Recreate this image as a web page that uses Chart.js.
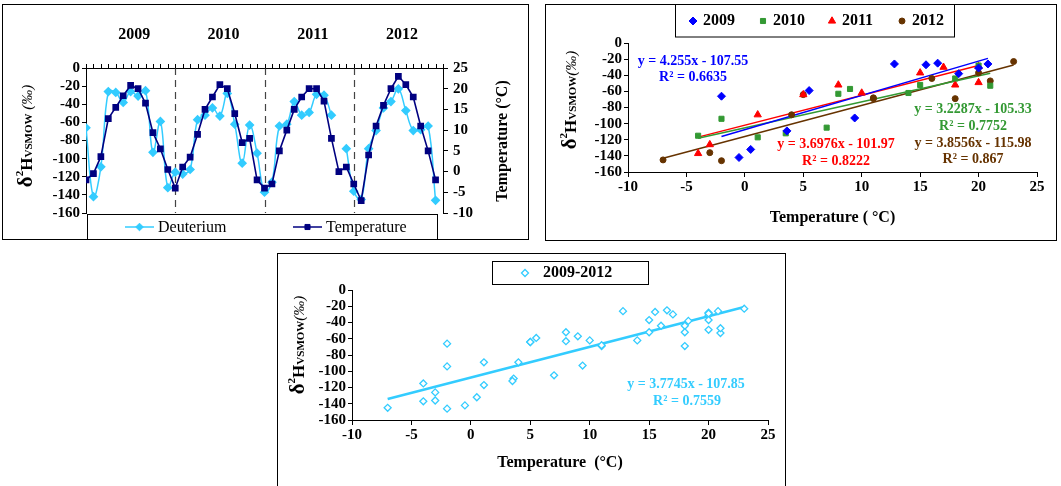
<!DOCTYPE html>
<html><head><meta charset="utf-8">
<script src="https://cdn.jsdelivr.net/npm/chart.js@4.4.1/dist/chart.umd.min.js"></script>
<style>
html,body{margin:0;padding:0;background:#fff;width:1061px;height:486px;overflow:hidden;}
.box{position:absolute;border:1px solid #000;box-sizing:border-box;background:#fff}
.box canvas{position:absolute;left:0;top:0}
</style></head><body>
<div class="box" style="left:2px;top:4px;width:527px;height:236px"><canvas id="c1" width="525" height="234"></canvas></div>
<div class="box" style="left:545px;top:4px;width:512px;height:237px"><canvas id="c2" width="510" height="235"></canvas></div>
<div class="box" style="left:277px;top:253px;width:509px;height:240px"><canvas id="c3" width="507" height="232"></canvas></div>
<script>
// ---------------- DATA ----------------
const years = ['2009', '2010', '2011', '2012'];
const seriesNames = ['Deuterium', 'Temperature'];
const temp2009 = [-2, -0.5, 3.6, 12.8, 15.5, 18.3, 20.8, 20, 16.5, 9.4, 5.5, 0.5];
const deut2009 = [-66, -142, -109, -26, -27, -38, -26, -31, -25, -93, -59, -132];
const temp2010 = [-4, 1.1, 3.5, 9, 15, 18, 21, 20, 14, 7, 8, -2];
const deut2010 = [-115, -117, -112, -57, -52, -44, -53, -28, -62, -105, -63, -94];
const temp2011 = [-4, -3, 5, 10, 15, 18, 20, 20, 17, 8, 0, 1.1];
const deut2011 = [-137, -126, -64, -62, -37, -52, -49, -29, -30, -52, null, -89];
const temp2012 = [-3, -7, 4, 11, 16, 20, 23, 21, 18, 11, 5, -2];
const deut2012 = [-136, -145, -89, -69, -44, -37, -23, -47, -69, -68, -64, -146];
const trendSlopes = [4.255, 3.2287, 3.6976, 3.8556];
const trendIntercepts = [-107.55, -105.33, -101.97, -115.98];
const trendR2 = ['0.6635', '0.7752', '0.8222', '0.867'];
const allLabel = '2009-2012';
const allSlope = 3.7745, allIntercept = -107.85, allR2 = '0.7559';
const deutTicks = {min: -160, max: 0, step: 20};
const tempTicks = {min: -10, max: 25, step: 5};
const xTempTicks = {min: -10, max: 25, step: 5};
const tempAxisTitle = 'Temperature (°C)';
const xTitle2 = 'Temperature ( °C)';
const xTitle3 = 'Temperature  (°C)';

// ---------------- derived ----------------
const tempsByYear = [temp2009, temp2010, temp2011, temp2012];
const deutsByYear = [deut2009, deut2010, deut2011, deut2012];
const temperature = [].concat(...tempsByYear);
const deuterium = [].concat(...deutsByYear);
const nMonths = temperature.length;

const SERIF = '"Liberation Serif", "Times New Roman", serif';
Chart.defaults.font.family = SERIF;
Chart.defaults.color = '#000';
Chart.defaults.animation = false;

const CYAN = '#33CCFF', NAVY = '#000080';
const YEAR_COLORS = ['#0000FF', '#339933', '#FF0000', '#663300'];
const YEAR_STYLES = ['rectRot', 'rect', 'triangle', 'circle'];
const YEAR_RADII = [4, 3.6, 4.2, 3];

function richTitle(ctx, pieces, cx, cy) {
  ctx.save();
  ctx.translate(cx, cy);
  ctx.rotate(-Math.PI / 2);
  let total = 0;
  pieces.forEach(p => { ctx.font = p.font; p.w = ctx.measureText(p.t).width; total += p.w; });
  let x = -total / 2;
  ctx.fillStyle = '#000'; ctx.textBaseline = 'alphabetic'; ctx.textAlign = 'left';
  pieces.forEach(p => { ctx.font = p.font; ctx.fillText(p.t, x, 6 + (p.dy || 0)); x += p.w; });
  ctx.restore();
}
function yTitlePieces(space) {
  return [
    {t: 'δ', font: 'bold 21px ' + SERIF},
    {t: '2', font: 'bold 11px ' + SERIF, dy: -9},
    {t: 'H', font: 'bold 17px ' + SERIF},
    {t: 'VSMOW', font: 'bold 11px ' + SERIF},
    {t: (space ? ' ' : '') + '(‰)', font: 'italic 15px ' + SERIF}
  ];
}
function marker(ctx, style, x, y, r, stroke, fill, bw) {
  ctx.save();
  ctx.strokeStyle = stroke; ctx.fillStyle = fill; ctx.lineWidth = bw || 1;
  Chart.helpers.drawPoint(ctx, {pointStyle: style, radius: r, rotation: 0, borderWidth: bw || 1}, x, y);
  ctx.restore();
}
function txt(ctx, s, x, y, font, color, align) {
  ctx.save();
  ctx.font = font; ctx.fillStyle = color; ctx.textAlign = align || 'center'; ctx.textBaseline = 'middle';
  ctx.fillText(s, x, y);
  ctx.restore();
}
const boldTick = (size) => ({family: SERIF, weight: 'bold', size: size});

// ---------------- Chart 1 : time series ----------------
const deco1 = {
  id: 'deco1',
  beforeDatasetsDraw(chart) {
    const {ctx, chartArea: a, scales: {x}} = chart;
    ctx.save();
    ctx.strokeStyle = '#444'; ctx.lineWidth = 1.2; ctx.setLineDash([7, 5]);
    for (let k = 1; k < years.length; k++) {
      const px = Math.round(x.getPixelForValue(k * 12)) + 0.5;
      ctx.beginPath(); ctx.moveTo(px, a.top); ctx.lineTo(px, a.bottom); ctx.stroke();
    }
    ctx.restore();
  },
  afterDraw(chart) {
    const {ctx, chartArea: a, scales: {x}} = chart;
    // month tick marks along the top axis
    ctx.save();
    ctx.strokeStyle = '#000'; ctx.lineWidth = 1; ctx.setLineDash([]);
    ctx.beginPath();
    for (let i = 0; i <= nMonths; i++) {
      const px = Math.round(x.getPixelForValue(i)) + 0.5;
      ctx.moveTo(px, a.top + 0.5); ctx.lineTo(px, a.top - 4);
    }
    ctx.stroke();
    ctx.restore();
    years.forEach((yr, k) => txt(ctx, yr, x.getPixelForValue(k * 12 + 6.5), 30, 'bold 16px ' + SERIF, '#000'));
    richTitle(ctx, yTitlePieces(true), 23, 131);
    ctx.save();
    ctx.translate(500, 136); ctx.rotate(-Math.PI / 2);
    ctx.font = 'bold 16px ' + SERIF; ctx.fillStyle = '#000'; ctx.textAlign = 'center'; ctx.textBaseline = 'middle';
    ctx.fillText(tempAxisTitle, 0, 0);
    ctx.restore();
    // legend box
    ctx.save();
    ctx.strokeStyle = '#000'; ctx.lineWidth = 1;
    ctx.strokeRect(a.left + 1.5, a.bottom + 1.5, 350, 30);
    const ly = a.bottom + 14;
    const items = [{x0: 122, c: CYAN, s: 'rectRot', r: 3.8}, {x0: 290, c: NAVY, s: 'rect', r: 3.6}];
    items.forEach((it, i) => {
      ctx.strokeStyle = it.c; ctx.lineWidth = 1.5;
      ctx.beginPath(); ctx.moveTo(it.x0, ly); ctx.lineTo(it.x0 + 29, ly); ctx.stroke();
      marker(ctx, it.s, it.x0 + 14.5, ly, it.r, it.c, it.c, 1);
      txt(ctx, seriesNames[i], it.x0 + 33, ly + 1, '16px ' + SERIF, '#000', 'left');
    });
    ctx.restore();
  }
};

new Chart(document.getElementById('c1'), {
  type: 'line',
  data: {
    datasets: [
      {label: seriesNames[1], data: temperature.map((v, i) => ({x: i, y: v})), yAxisID: 'yT',
       borderColor: NAVY, backgroundColor: NAVY, borderWidth: 1.6, pointStyle: 'rect', pointRadius: 3.6,
       tension: 0, order: 0},
      {label: seriesNames[0], data: deuterium.map((v, i) => ({x: i, y: v})), yAxisID: 'yD',
       borderColor: CYAN, backgroundColor: CYAN, borderWidth: 1.5, pointStyle: 'rectRot', pointRadius: 3.8,
       tension: 0.4, spanGaps: false, order: 1}
    ]
  },
  options: {
    responsive: false, animation: false,
    layout: {padding: {left: 0, right: 0, top: 0, bottom: 26}},
    plugins: {legend: {display: false}, tooltip: {enabled: false}},
    scales: {
      x: {type: 'linear', position: 'top', min: 0, max: nMonths,
          ticks: {display: false, stepSize: 1, maxTicksLimit: 100, autoSkip: false},
          grid: {display: false},
          border: {display: true, color: '#000', width: 1},
          afterFit: s => { s.height = 63; }},
      yD: {type: 'linear', position: 'left', min: deutTicks.min, max: deutTicks.max,
           ticks: {stepSize: deutTicks.step, font: boldTick(15), padding: 2, autoSkip: false},
           grid: {drawOnChartArea: false, tickLength: 4, color: '#000'},
           border: {display: true, color: '#000', width: 1},
           afterFit: s => { s.width = 83; }},
      yT: {type: 'linear', position: 'right', min: tempTicks.min, max: tempTicks.max,
           ticks: {stepSize: tempTicks.step, font: boldTick(15), padding: 5, autoSkip: false},
           grid: {drawOnChartArea: false, tickLength: 5, color: '#000'},
           border: {display: true, color: '#000', width: 1},
           afterFit: s => { s.width = 85; }}
    }
  },
  plugins: [deco1]
});

// ---------------- Chart 2 : per-year scatter ----------------
function trendLine(temps, deuts, slope, intercept) {
  const xs = temps.filter((t, i) => deuts[i] !== null);
  const lo = Math.min(...xs), hi = Math.max(...xs);
  return [{x: lo, y: slope * lo + intercept}, {x: hi, y: slope * hi + intercept}];
}
function eqText(slope, intercept) {
  return 'y = ' + slope + 'x ' + (intercept < 0 ? '- ' : '+ ') + Math.abs(intercept);
}
const ds2 = [];
years.forEach((yr, k) => {
  ds2.push({label: yr + ' trend', type: 'line', showLine: true, data: trendLine(tempsByYear[k], deutsByYear[k], trendSlopes[k], trendIntercepts[k]),
    borderColor: YEAR_COLORS[k], borderWidth: 1.5, pointRadius: 0, order: 2});
});
years.forEach((yr, k) => {
  ds2.push({label: yr, data: tempsByYear[k].map((t, i) => ({x: t, y: deutsByYear[k][i]})).filter(p => p.y !== null),
    pointStyle: YEAR_STYLES[k], pointRadius: YEAR_RADII[k], borderColor: YEAR_COLORS[k], backgroundColor: YEAR_COLORS[k],
    pointBorderWidth: 1, order: 1});
});
const eqPos2 = [[147, 56, 72], [427, 104, 121], [290, 139, 156], [427, 138, 154]];
const deco2 = {
  id: 'deco2',
  afterDraw(chart) {
    const {ctx} = chart;
    richTitle(ctx, yTitlePieces(false), 24, 95);
    years.forEach((yr, k) => {
      const p = eqPos2[k];
      txt(ctx, eqText(trendSlopes[k], trendIntercepts[k]), p[0], p[1], 'bold 14px ' + SERIF, YEAR_COLORS[k]);
      txt(ctx, 'R² = ' + trendR2[k], p[0], p[2], 'bold 14px ' + SERIF, YEAR_COLORS[k]);
    });
    ctx.save();
    ctx.strokeStyle = '#000'; ctx.lineWidth = 1;
    ctx.strokeRect(129.5, -1, 279, 33);
    const lx = [147, 217, 286, 356];
    years.forEach((yr, k) => {
      marker(ctx, YEAR_STYLES[k], lx[k], 16, YEAR_RADII[k], YEAR_COLORS[k], YEAR_COLORS[k], 1);
      txt(ctx, yr, lx[k] + 10, 16, 'bold 16px ' + SERIF, '#000', 'left');
    });
    ctx.restore();
  }
};
new Chart(document.getElementById('c2'), {
  type: 'scatter',
  data: {datasets: ds2},
  options: {
    responsive: false, animation: false,
    layout: {padding: {left: 0, right: 19, top: 38, bottom: 0}},
    plugins: {legend: {display: false}, tooltip: {enabled: false}},
    scales: {
      x: {type: 'linear', position: 'bottom', min: xTempTicks.min, max: xTempTicks.max,
          ticks: {stepSize: xTempTicks.step, font: boldTick(15), padding: 1, autoSkip: false},
          grid: {drawOnChartArea: false, tickLength: 5, color: '#000'},
          border: {display: true, color: '#000', width: 1},
          title: {display: true, text: xTitle2, font: {family: SERIF, weight: 'bold', size: 16}, padding: 13},
          afterFit: s => { s.height = 68; }},
      y: {type: 'linear', position: 'left', min: deutTicks.min, max: deutTicks.max,
          ticks: {stepSize: deutTicks.step, font: boldTick(15), padding: 2, autoSkip: false},
          grid: {drawOnChartArea: false, tickLength: 4, color: '#000'},
          border: {display: true, color: '#000', width: 1},
          afterFit: s => { s.width = 82; }}
    }
  },
  plugins: [deco2]
});

// ---------------- Chart 3 : all years ----------------
const allPoints = [];
tempsByYear.forEach((ts, k) => ts.forEach((t, i) => { if (deutsByYear[k][i] !== null) allPoints.push({x: t, y: deutsByYear[k][i]}); }));
const allTemps = allPoints.map(p => p.x);
const deco3 = {
  id: 'deco3',
  afterDraw(chart) {
    const {ctx} = chart;
    richTitle(ctx, yTitlePieces(false), 20, 91);
    txt(ctx, eqText(allSlope, allIntercept), 408, 130, 'bold 14px ' + SERIF, CYAN);
    txt(ctx, 'R² = ' + allR2, 409, 147, 'bold 14px ' + SERIF, CYAN);
    ctx.save();
    ctx.strokeStyle = '#000'; ctx.lineWidth = 1;
    ctx.strokeRect(214.5, 7.5, 156, 23);
    marker(ctx, 'rectRot', 247, 19, 3.5, CYAN, '#fff', 1.3);
    txt(ctx, allLabel, 265, 19, 'bold 16px ' + SERIF, '#000', 'left');
    ctx.restore();
  }
};
new Chart(document.getElementById('c3'), {
  type: 'scatter',
  data: {datasets: [
    {label: allLabel + ' trend', type: 'line', showLine: true,
     data: [{x: Math.min(...allTemps), y: allSlope * Math.min(...allTemps) + allIntercept},
            {x: Math.max(...allTemps), y: allSlope * Math.max(...allTemps) + allIntercept}],
     borderColor: CYAN, borderWidth: 2.6, pointRadius: 0, order: 2},
    {label: allLabel, data: allPoints, pointStyle: 'rectRot', pointRadius: 3.5,
     borderColor: CYAN, backgroundColor: '#fff', pointBorderWidth: 1.3, order: 1}
  ]},
  options: {
    responsive: false, animation: false,
    layout: {padding: {left: 0, right: 17, top: 36, bottom: 0}},
    plugins: {legend: {display: false}, tooltip: {enabled: false}},
    scales: {
      x: {type: 'linear', position: 'bottom', min: xTempTicks.min, max: xTempTicks.max,
          ticks: {stepSize: xTempTicks.step, font: boldTick(15), padding: 1, autoSkip: false},
          grid: {drawOnChartArea: false, tickLength: 5, color: '#000'},
          border: {display: true, color: '#000', width: 1},
          title: {display: true, text: xTitle3, font: {family: SERIF, weight: 'bold', size: 16}, padding: 14},
          afterFit: s => { s.height = 66; }},
      y: {type: 'linear', position: 'left', min: deutTicks.min, max: deutTicks.max,
          ticks: {stepSize: deutTicks.step, font: boldTick(15), padding: 2, autoSkip: false},
          grid: {drawOnChartArea: false, tickLength: 4, color: '#000'},
          border: {display: true, color: '#000', width: 1},
          afterFit: s => { s.width = 74; }}
    }
  },
  plugins: [deco3]
});
</script>
</body></html>
